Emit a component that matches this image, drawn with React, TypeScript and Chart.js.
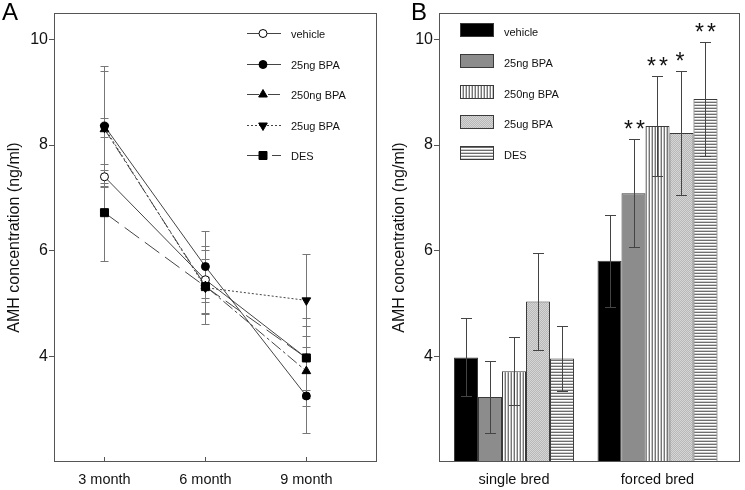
import React, { useEffect, useRef } from 'react';
import { Chart, registerables } from 'chart.js';

Chart.register(...registerables);

const FONT = "'Liberation Sans', Arial, Helvetica, sans-serif";

// ---------- Panel A data ----------
const monthLabels = ['3 month', '6 month', '9 month'];
const monthPositions = [0, 1, 2];
const seriesNames = ['vehicle', '25ng BPA', '250ng BPA', '25ug BPA', 'DES'];
const yTickValues = [4, 6, 8, 10];

const vehicleA = [7.4, 5.45, 3.97];
const vehicleAErr = [0.12, 0.63, 0.75];
const bpa25ngA = [8.36, 5.7, 3.25];
const bpa25ngAErr = [1.13, 0.67, 0.7];
const bpa250ngA = [8.3, 5.33, 3.72];
const bpa250ngAErr = [1.1, 0.52, 0.66];
const bpa25ugA = [8.33, 5.3, 5.06];
const bpa25ugAErr = [0.18, 0.2, 0.88];
const desA = [6.72, 5.32, 3.97];
const desAErr = [0.92, 0.7, 0.6];

// ---------- Panel B data ----------
const groupLabels = ['single bred', 'forced bred'];
const groupPositions = [0, 1];

const vehicleB = [3.98, 5.81];
const vehicleBErr = [0.74, 0.87];
const bpa25ngB = [3.23, 7.09];
const bpa25ngBErr = [0.69, 1.02];
const bpa250ngB = [3.72, 8.36];
const bpa250ngBErr = [0.64, 0.95];
const bpa25ugB = [5.04, 8.23];
const bpa25ugBErr = [0.92, 1.18];
const desB = [3.96, 8.87];
const desBErr = [0.61, 1.08];

const vehicleBSig = ['', ''];
const bpa25ngBSig = ['', '**'];
const bpa250ngBSig = ['', '**'];
const bpa25ugBSig = ['', '*'];
const desBSig = ['', '**'];

// ---------- helpers ----------
function drawMarker(ctx: CanvasRenderingContext2D, kind: string, x: number, y: number, fill: string) {
  ctx.save();
  ctx.setLineDash([]);
  ctx.lineWidth = 1;
  ctx.strokeStyle = '#000';
  ctx.fillStyle = fill;
  ctx.beginPath();
  const s60 = Math.sin(Math.PI / 3);
  if (kind === 'circle') {
    ctx.arc(x, y, 4, 0, Math.PI * 2);
  } else if (kind === 'triangle') {
    const r = 5;
    ctx.moveTo(x, y - r);
    ctx.lineTo(x + r * s60, y + r / 2);
    ctx.lineTo(x - r * s60, y + r / 2);
    ctx.closePath();
  } else if (kind === 'triangleDown') {
    const r = 5;
    ctx.moveTo(x, y + r);
    ctx.lineTo(x + r * s60, y - r / 2);
    ctx.lineTo(x - r * s60, y - r / 2);
    ctx.closePath();
  } else {
    ctx.rect(x - 4, y - 4, 8, 8);
  }
  ctx.fill();
  ctx.stroke();
  ctx.restore();
}

function makePattern(w: number, h: number, draw: (g: CanvasRenderingContext2D) => void) {
  const c = document.createElement('canvas');
  c.width = w;
  c.height = h;
  const g = c.getContext('2d') as CanvasRenderingContext2D;
  draw(g);
  return g.createPattern(c, 'repeat') as CanvasPattern;
}

const framePlugin = {
  id: 'frame',
  afterDatasetsDraw(chart: any) {
    const { ctx, chartArea: a } = chart;
    ctx.save();
    ctx.strokeStyle = '#555';
    ctx.lineWidth = 1;
    ctx.setLineDash([]);
    ctx.strokeRect(Math.round(a.left) + 0.5, Math.round(a.top) + 0.5, Math.round(a.right - a.left) - 1, Math.round(a.bottom - a.top) - 1);
    ctx.restore();
  },
};

function panelLetter(letter: string, x: number) {
  return {
    id: 'panelLetter',
    afterDraw(chart: any) {
      const ctx = chart.ctx;
      ctx.save();
      ctx.fillStyle = '#000';
      ctx.font = `24px ${FONT}`;
      ctx.textBaseline = 'alphabetic';
      ctx.textAlign = 'left';
      ctx.fillText(letter, x, 20);
      ctx.restore();
    },
  };
}

const axisFont = { family: FONT, size: 16 };
const xFont = { family: FONT, size: 14.5 };

// ---------- Panel A ----------
function PanelA() {
  const ref = useRef<HTMLCanvasElement>(null);
  useEffect(() => {
    const values = [vehicleA, bpa25ngA, bpa250ngA, bpa25ugA, desA];
    const errs = [vehicleAErr, bpa25ngAErr, bpa250ngAErr, bpa25ugAErr, desAErr];
    const styles = [
      { dash: [] as number[], point: 'circle', legend: 'circle', r: 4, rot: 0, fill: '#fff' },
      { dash: [] as number[], point: 'circle', legend: 'circle', r: 4, rot: 0, fill: '#000' },
      { dash: [12, 3, 3, 3], point: 'triangle', legend: 'triangle', r: 5, rot: 0, fill: '#000' },
      { dash: [2, 2], point: 'triangle', legend: 'triangleDown', r: 5, rot: 180, fill: '#000' },
      { dash: [18, 7], point: 'rect', legend: 'rect', r: 5.66, rot: 0, fill: '#000' },
    ];
    const datasets = values.map((vals, i) => ({
      label: seriesNames[i],
      data: monthPositions.map((x, j) => ({ x, y: vals[j] })),
      order: values.length - i,
      borderColor: '#444',
      borderWidth: 1,
      borderDash: styles[i].dash,
      pointStyle: styles[i].point,
      pointRadius: styles[i].r,
      pointRotation: styles[i].rot,
      pointBackgroundColor: styles[i].fill,
      pointBorderColor: '#000',
      pointBorderWidth: 1,
      tension: 0,
      fill: false,
    }));

    const errorPlugin = {
      id: 'errA',
      beforeDatasetsDraw(chart: any) {
        const { ctx, scales } = chart;
        const xs = scales.x;
        const ys = scales.y;
        ctx.save();
        ctx.strokeStyle = '#777';
        ctx.lineWidth = 1;
        ctx.setLineDash([]);
        values.forEach((vals, i) => {
          monthPositions.forEach((m, j) => {
            const x = Math.round(xs.getPixelForValue(m)) + 0.5;
            const yt = Math.round(ys.getPixelForValue(vals[j] + errs[i][j])) + 0.5;
            const yb = Math.round(ys.getPixelForValue(vals[j] - errs[i][j])) + 0.5;
            ctx.beginPath();
            ctx.moveTo(x, yt);
            ctx.lineTo(x, yb);
            ctx.moveTo(x - 4, yt);
            ctx.lineTo(x + 4, yt);
            ctx.moveTo(x - 4, yb);
            ctx.lineTo(x + 4, yb);
            ctx.stroke();
          });
        });
        // inward x tick marks
        ctx.strokeStyle = '#555';
        const bottom = chart.chartArea.bottom;
        monthPositions.forEach((m) => {
          const x = Math.round(xs.getPixelForValue(m)) + 0.5;
          ctx.beginPath();
          ctx.moveTo(x, bottom - 5);
          ctx.lineTo(x, bottom);
          ctx.stroke();
        });
        ctx.restore();
      },
    };

    const legendPlugin = {
      id: 'legA',
      afterDraw(chart: any) {
        const { ctx, chartArea: a } = chart;
        ctx.save();
        seriesNames.forEach((name, i) => {
          const y = Math.round(a.top + 20 + i * 30.5) + 0.5;
          const x0 = a.right - 130;
          ctx.strokeStyle = '#444';
          ctx.lineWidth = 1;
          ctx.setLineDash(styles[i].dash);
          ctx.beginPath();
          ctx.moveTo(x0, y);
          ctx.lineTo(x0 + 34, y);
          ctx.stroke();
          drawMarker(ctx, styles[i].legend, x0 + 16, y, styles[i].fill);
          ctx.fillStyle = '#111';
          ctx.font = `11px ${FONT}`;
          ctx.textBaseline = 'middle';
          ctx.textAlign = 'left';
          ctx.fillText(name, a.right - 86, y + 1);
        });
        ctx.restore();
      },
    };

    const chart = new Chart(ref.current as HTMLCanvasElement, {
      type: 'line',
      data: { datasets } as any,
      options: {
        responsive: false,
        animation: false,
        events: [],
        layout: { padding: { top: 13, right: 8, left: 0, bottom: 0 } },
        plugins: { legend: { display: false }, tooltip: { enabled: false } },
        scales: {
          x: {
            type: 'linear',
            bounds: 'data',
            min: -0.5,
            max: 2.7,
            afterBuildTicks: (s: any) => {
              s.ticks = monthPositions.map((v) => ({ value: v }));
            },
            ticks: {
              callback: (v: any) => monthLabels[monthPositions.indexOf(Number(v))],
              font: xFont,
              color: '#111',
              padding: 9,
              maxRotation: 0,
              autoSkip: false,
            },
            grid: { display: false, drawTicks: false },
            border: { display: false },
            afterFit: (s: any) => {
              s.height = 28;
            },
          },
          y: {
            type: 'linear',
            min: 2,
            max: 10.5,
            afterBuildTicks: (s: any) => {
              s.ticks = yTickValues.map((v) => ({ value: v }));
            },
            ticks: { font: axisFont, color: '#111', padding: 1 },
            grid: { drawOnChartArea: false, tickLength: 5, color: '#555' },
            border: { display: false },
            title: {
              display: true,
              text: 'AMH concentration (ng/ml)',
              font: axisFont,
              color: '#111',
              padding: { top: 5, bottom: 0 },
            },
            afterFit: (s: any) => {
              s.width = 54;
            },
          },
        },
      } as any,
      plugins: [errorPlugin, framePlugin, legendPlugin, panelLetter('A', 2)],
    });
    return () => chart.destroy();
  }, []);
  return <canvas ref={ref} width={385} height={490} style={{ position: 'absolute', left: 0, top: 0 }} />;
}

// ---------- Panel B ----------
function PanelB() {
  const ref = useRef<HTMLCanvasElement>(null);
  useEffect(() => {
    const vert = makePattern(3, 1, (g) => {
      g.fillStyle = '#767676';
      g.fillRect(0, 0, 1, 1);
      g.fillStyle = '#ffffff';
      g.fillRect(1, 0, 1, 1);
      g.fillStyle = '#c4c4c4';
      g.fillRect(2, 0, 1, 1);
    });
    const dots = makePattern(2, 2, (g) => {
      g.fillStyle = '#d6d6d6';
      g.fillRect(0, 0, 2, 2);
      g.fillStyle = '#b8b8b8';
      g.fillRect(0, 0, 1, 1);
      g.fillRect(1, 1, 1, 1);
    });
    const horz = makePattern(1, 3, (g) => {
      g.fillStyle = '#6e6e6e';
      g.fillRect(0, 0, 1, 1);
      g.fillStyle = '#ffffff';
      g.fillRect(0, 1, 1, 1);
      g.fillStyle = '#cccccc';
      g.fillRect(0, 2, 1, 1);
    });
    const fills: any[] = ['#000000', '#8c8c8c', vert, dots, horz];
    const values = [vehicleB, bpa25ngB, bpa250ngB, bpa25ugB, desB];
    const errs = [vehicleBErr, bpa25ngBErr, bpa250ngBErr, bpa25ugBErr, desBErr];
    const sigs = [vehicleBSig, bpa25ngBSig, bpa250ngBSig, bpa25ugBSig, desBSig];

    const datasets = values.map((vals, i) => ({
      label: seriesNames[i],
      data: groupPositions.map((x, j) => ({ x, y: vals[j] })),
      backgroundColor: fills[i],
      borderColor: '#3a3a3a',
      borderWidth: 1,
      categoryPercentage: 0.836,
      barPercentage: 1,
    }));

    const errorPlugin = {
      id: 'errB',
      afterDatasetsDraw(chart: any) {
        const { ctx, scales } = chart;
        const ys = scales.y;
        ctx.save();
        ctx.lineWidth = 1;
        ctx.setLineDash([]);
        values.forEach((vals, i) => {
          const meta = chart.getDatasetMeta(i);
          groupPositions.forEach((_g, j) => {
            const el = meta.data[j];
            const x = Math.round(el.x) + 0.5;
            const top = vals[j] + errs[i][j];
            const yt = Math.round(ys.getPixelForValue(top)) + 0.5;
            const yb = Math.round(ys.getPixelForValue(vals[j] - errs[i][j])) + 0.5;
            ctx.strokeStyle = '#444';
            ctx.beginPath();
            ctx.moveTo(x, yt);
            ctx.lineTo(x, yb);
            ctx.moveTo(x - 5.5, yt);
            ctx.lineTo(x + 5.5, yt);
            ctx.moveTo(x - 5.5, yb);
            ctx.lineTo(x + 5.5, yb);
            ctx.stroke();
            const s = sigs[i][j];
            if (s) {
              ctx.fillStyle = '#111';
              ctx.font = `23px ${FONT}`;
              ctx.textAlign = 'center';
              ctx.textBaseline = 'alphabetic';
              (ctx as any).letterSpacing = '3px';
              ctx.fillText(s, x + (s.length > 1 ? 1.5 : 0), yt - 3);
              (ctx as any).letterSpacing = '0px';
            }
          });
        });
        ctx.restore();
      },
    };

    const legendPlugin = {
      id: 'legB',
      afterDraw(chart: any) {
        const { ctx, chartArea: a } = chart;
        ctx.save();
        seriesNames.forEach((name, i) => {
          const yTop = Math.round(a.top + 10 + i * 30.8);
          const x0 = Math.round(a.left + 21);
          ctx.fillStyle = fills[i];
          ctx.fillRect(x0, yTop, 34, 14);
          ctx.strokeStyle = '#3a3a3a';
          ctx.lineWidth = 1;
          ctx.strokeRect(x0 + 0.5, yTop + 0.5, 33, 13);
          ctx.fillStyle = '#111';
          ctx.font = `11px ${FONT}`;
          ctx.textBaseline = 'middle';
          ctx.textAlign = 'left';
          ctx.fillText(name, a.left + 65, yTop + 9.5);
        });
        ctx.restore();
      },
    };

    const chart = new Chart(ref.current as HTMLCanvasElement, {
      type: 'bar',
      data: { datasets } as any,
      options: {
        responsive: false,
        animation: false,
        events: [],
        layout: { padding: { top: 13, right: 5, left: 0, bottom: 0 } },
        plugins: { legend: { display: false }, tooltip: { enabled: false } },
        scales: {
          x: {
            type: 'linear',
            bounds: 'data',
            offset: false,
            min: -0.5226,
            max: 1.5749,
            afterBuildTicks: (s: any) => {
              s.ticks = groupPositions.map((v) => ({ value: v }));
            },
            ticks: {
              callback: (v: any) => groupLabels[groupPositions.indexOf(Number(v))],
              font: xFont,
              color: '#111',
              padding: 9,
              maxRotation: 0,
              autoSkip: false,
            },
            grid: { display: false, drawTicks: false, offset: false },
            border: { display: false },
            afterFit: (s: any) => {
              s.height = 28;
            },
          },
          y: {
            type: 'linear',
            beginAtZero: false,
            min: 2,
            max: 10.5,
            afterBuildTicks: (s: any) => {
              s.ticks = yTickValues.map((v) => ({ value: v }));
            },
            ticks: { font: axisFont, color: '#111', padding: 1 },
            grid: { drawOnChartArea: false, tickLength: 5, color: '#555' },
            border: { display: false },
            title: {
              display: true,
              text: 'AMH concentration (ng/ml)',
              font: axisFont,
              color: '#111',
              padding: { top: 5, bottom: 0 },
            },
            afterFit: (s: any) => {
              s.width = 54;
            },
          },
        },
      } as any,
      plugins: [framePlugin, errorPlugin, legendPlugin, panelLetter('B', 26)],
    });
    return () => chart.destroy();
  }, []);
  return <canvas ref={ref} width={360} height={490} style={{ position: 'absolute', left: 385, top: 0 }} />;
}

export default function App() {
  return (
    <div style={{ position: 'fixed', left: 0, top: 0, width: 745, height: 490, background: '#fff', overflow: 'hidden' }}>
      <PanelA />
      <PanelB />
    </div>
  );
}
